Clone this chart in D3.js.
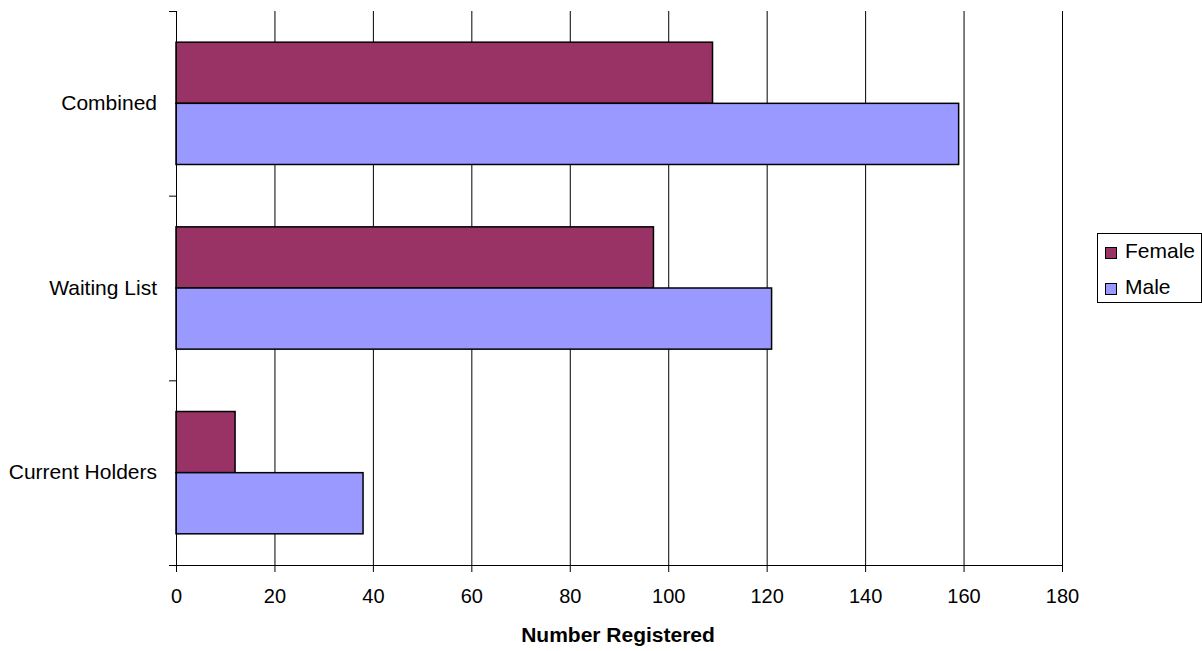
<!DOCTYPE html>
<html>
<head>
<meta charset="utf-8">
<script src="https://cdn.jsdelivr.net/npm/d3@7"></script>
<style>
  body { margin: 0; background: #fff; }
  text { font-family: "Liberation Sans", Arial, sans-serif; fill: #000; }
</style>
</head>
<body>
<svg width="1202" height="651"></svg>
<script>
// data
var categories = ['Combined', 'Waiting List', 'Current Holders']
var series = ['Female', 'Male']
var female = [109, 97, 12]
var male = [159, 121, 38]
var xTicks = [0, 20, 40, 60, 80, 100, 120, 140, 160, 180]
var colors = ['#993366', '#9999FF']

var svg = d3.select('svg')
var plotLeft = 176, plotRight = 1062, plotTop = 11, plotBottom = 565

var rows = categories.map((c, i) => ({ cat: c, values: [female[i], male[i]] }))

// scales
var xScale = d3.scaleLinear()
    .domain([0, 180])
    .range([plotLeft, plotRight])

var yScale = d3.scaleBand()
    .domain(categories)
    .range([plotTop, plotBottom])
    .paddingInner(0)
    .paddingOuter(0)

var inner = d3.scaleBand()
    .domain(series)
    .range([0, yScale.bandwidth()])
    .paddingInner(0)
    .paddingOuter(0.51)

// gridlines
svg.append('g')
    .selectAll('line')
    .data(xTicks.slice(1))
    .enter()
    .append('line')
        .attr('x1', d => xScale(d) + 0.5)
        .attr('x2', d => xScale(d) + 0.5)
        .attr('y1', plotTop)
        .attr('y2', plotBottom)
        .attr('stroke', '#000')
        .attr('stroke-width', 1)

// bars
svg.append('g')
    .selectAll('g')
    .data(rows)
    .enter()
    .append('g')
        .attr('transform', d => 'translate(0,' + yScale(d.cat) + ')')
    .selectAll('rect')
    .data(d => d.values.map((v, j) => ({ key: series[j], value: v, j: j })))
    .enter()
    .append('rect')
        .attr('x', xScale(0))
        .attr('y', d => inner(d.key))
        .attr('width', d => xScale(d.value) - xScale(0))
        .attr('height', inner.bandwidth())
        .attr('fill', d => colors[d.j])
        .attr('stroke', '#000')
        .attr('stroke-width', 1.5)

// x axis
var xAxis = d3.axisBottom(xScale)
    .tickValues(xTicks)
    .tickSize(7)
    .tickSizeOuter(0)
    .tickPadding(17)

var gx = svg.append('g')
    .attr('transform', 'translate(0,' + plotBottom + ')')
    .call(xAxis)
gx.select('.domain').attr('stroke', '#000').attr('d', 'M' + (plotLeft - 7) + ',0.5H' + plotRight)
gx.selectAll('text').style('font-size', '20px').style('font-family', '"Liberation Sans", Arial, sans-serif')

// y axis
var yAxis = d3.axisLeft(yScale)
    .tickSize(0)
    .tickPadding(19)

var gy = svg.append('g')
    .attr('transform', 'translate(' + plotLeft + ',0)')
    .call(yAxis)
gy.select('.domain').attr('stroke', '#000').attr('d', 'M0.5,' + plotTop + 'V' + plotBottom)
gy.selectAll('text').style('font-size', '21px').style('font-family', '"Liberation Sans", Arial, sans-serif')

// y tick marks at band edges
svg.append('g')
    .selectAll('line')
    .data(categories)
    .enter()
    .append('line')
        .attr('x1', plotLeft - 7)
        .attr('x2', plotLeft)
        .attr('y1', d => yScale(d) + 0.5)
        .attr('y2', d => yScale(d) + 0.5)
        .attr('stroke', '#000')

// x axis label
svg.append('text')
    .text('Number Registered')
    .attr('text-anchor', 'middle')
    .attr('x', 618)
    .attr('y', 642)
    .style('font-size', '21px')
    .style('font-weight', 'bold')

// legend
var legend = svg.append('g')
    .attr('transform', 'translate(1097,233)')

legend.append('rect')
    .attr('x', 0.5)
    .attr('y', 0.5)
    .attr('width', 104)
    .attr('height', 69)
    .attr('fill', '#fff')
    .attr('stroke', '#000')

var item = legend.selectAll('.item')
    .data(series)
    .enter()
    .append('g')
        .attr('transform', (d, i) => 'translate(8,' + (24 + i * 36) + ')')

item.append('rect')
    .attr('x', 0.5)
    .attr('y', -9.5)
    .attr('width', 11)
    .attr('height', 11)
    .attr('fill', (d, i) => colors[i])
    .attr('stroke', '#000')

item.append('text')
    .text(d => d)
    .attr('x', 20)
    .attr('y', 1)
    .style('font-size', '21px')
</script>
</body>
</html>
